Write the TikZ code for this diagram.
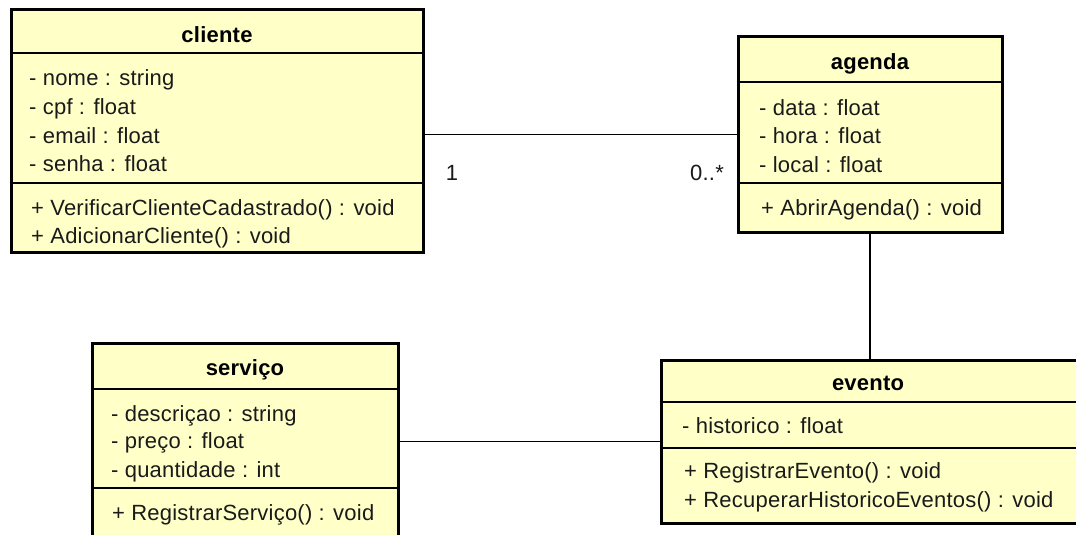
\documentclass[tikz,border=0pt]{standalone}
\usepackage{fontspec}
\setmainfont[LetterSpace=1.0]{Liberation Sans}
\definecolor{classfill}{HTML}{FFFFC8}
\definecolor{ink}{HTML}{1A1A1A}
\tikzset{
  x=1pt, y=-1pt,
  classbox/.style={draw=black, fill=classfill, line width=3pt, inner sep=0pt, rectangle},
  divider/.style={draw=black, line width=1.3pt},
  assoc/.style={draw=black, line width=1.3pt},
  member/.style={anchor=base west, inner sep=0pt, text=ink, font=\fontsize{22}{26}\selectfont},
  title/.style={anchor=base, inner sep=0pt, text=black, font=\fontsize{22}{26}\selectfont\bfseries},
  mult/.style={anchor=base, inner sep=0pt, text=ink, font=\fontsize{22}{26}\selectfont},
}
\begin{document}
\begin{tikzpicture}
\useasboundingbox (0,0) rectangle (1076,535);
\clip (0,0) rectangle (1076,535);
\fill[white] (0,0) rectangle (1076,535);

% class boxes
\node[classbox, minimum width=412pt, minimum height=242pt] (cliente) at (217,131) {};
\node[classbox, minimum width=264pt, minimum height=195pt] (agenda) at (870,134.5) {};
\node[classbox, minimum width=306pt, minimum height=220pt] (servico) at (245,453) {};
\node[classbox, minimum width=430pt, minimum height=163pt] (evento) at (876,441.5) {};

% associations
\draw[assoc] (agenda.west) -- (agenda.west -| cliente.east);
\draw[assoc] (agenda.south) -- (agenda.south |- evento.north);
\draw[assoc] (evento.west) -- (evento.west -| servico.east);
\node[mult] (m1) at (452,180) {1};
\node[mult] (m2) at (707,180) {0..*};

% cliente
\draw[divider] (cliente.west |- 0,53) -- (cliente.east |- 0,53);
\draw[divider] (cliente.west |- 0,183) -- (cliente.east |- 0,183);
\node[title] (tc) at (217,43) {cliente};
\node[member] (c1) at (29,85) {- nome : string};
\node[member] (c2) at (29,114) {- cpf : float};
\node[member] (c3) at (29,143) {- email : float};
\node[member] (c4) at (29,171) {- senha : float};
\node[member] (c5) at (31,215) {+ VerificarClienteCadastrado() : void};
\node[member] (c6) at (31,243) {+ AdicionarCliente() : void};

% agenda
\draw[divider] (agenda.west |- 0,82) -- (agenda.east |- 0,82);
\draw[divider] (agenda.west |- 0,183) -- (agenda.east |- 0,183);
\node[title] (ta) at (870,70) {agenda};
\node[member] (a1) at (759,115) {- data : float};
\node[member] (a2) at (759,143) {- hora : float};
\node[member] (a3) at (759,172) {- local : float};
\node[member] (a4) at (761,215) {+ AbrirAgenda() : void};

% servico
\draw[divider] (servico.west |- 0,389) -- (servico.east |- 0,389);
\draw[divider] (servico.west |- 0,488) -- (servico.east |- 0,488);
\node[title] (ts) at (245,375) {serviço};
\node[member] (s1) at (111,421) {- descriçao : string};
\node[member] (s2) at (111,448) {- preço : float};
\node[member] (s3) at (111,477) {- quantidade : int};
\node[member] (s4) at (112,520) {+ RegistrarServiço() : void};

% evento
\draw[divider] (evento.west |- 0,402) -- (evento.east |- 0,402);
\draw[divider] (evento.west |- 0,448) -- (evento.east |- 0,448);
\node[title] (te) at (868,390) {evento};
\node[member] (e1) at (682,433) {- historico : float};
\node[member] (e2) at (684,478) {+ RegistrarEvento() : void};
\node[member] (e3) at (684,507) {+ RecuperarHistoricoEventos() : void};
\end{tikzpicture}
\end{document}
